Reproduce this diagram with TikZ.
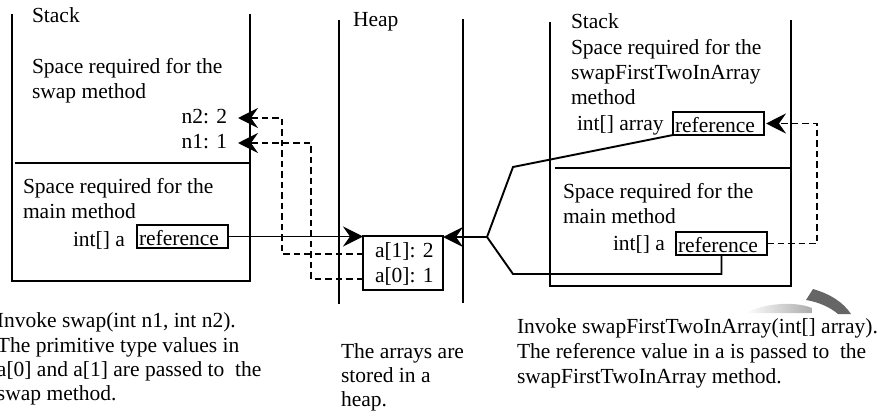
\documentclass[tikz,border=0pt]{standalone}
\usepackage{fontspec}
\setmainfont{Liberation Serif}
\usetikzlibrary{arrows.meta}
\newcommand\dgfont{\fontsize{21.5pt}{24.5pt}\selectfont}
\begin{document}
\begin{tikzpicture}[x=1pt,y=-1pt,
  frame/.style={line width=1.9pt},
  dashline/.style={line width=1.6pt, dash pattern=on 6.5pt off 4pt},
  tip/.style={-{Stealth[length=20pt,width=20pt,inset=7pt]}},
  lbl/.style={inner sep=0pt, outer sep=0pt, anchor=base west, font=\dgfont},
  refbox/.style={draw, line width=1.9pt, inner xsep=2pt, inner ysep=0pt, outer sep=0pt,
    text height=20.5pt, text depth=2.5pt, text width=87pt, align=left, font=\dgfont, anchor=south west}]
\useasboundingbox (0,0) rectangle (882,412);
% ---------- left stack ----------
\draw[frame] (12,14) -- (12,281) -- (250,281) -- (250,14);
\draw[frame] (15,163) -- (250,163);
\node[lbl] (stackL) at (32,22.5) {Stack};
\node[lbl] (swapA) at (32,74) {Space required for the};
\node[lbl] (swapB) at (32,98) {swap method};
\node[lbl,anchor=base east] (n2) at (227,123) {n2: 2};
\node[lbl,anchor=base east] (n1) at (227,148) {n1: 1};
\node[lbl] (mainA) at (23,193) {Space required for the};
\node[lbl] (mainB) at (23,218) {main method};
\node[lbl] (intA) at (73,246) {int[] a};
\node[refbox] (refL) at (137,248) {reference};
\coordinate (t2) at (238,118);
\coordinate (t1) at (238,143);
% ---------- heap ----------
\draw[frame] (339,20) -- (339,304);
\draw[frame] (463,19) -- (463,303);
\node[lbl] (heapT) at (353,27) {Heap};
\node[draw, line width=1.9pt, minimum width=80pt, minimum height=54pt, inner sep=0pt, outer sep=0pt] (arr) at (403,263) {};
\node[lbl] (a1) at (375,257) {a[1]: 2};
\node[lbl] (a0) at (375,282) {a[0]: 1};
% ---------- right stack ----------
\draw[frame] (550,22) -- (550,286) -- (791,286) -- (791,20);
\draw[frame] (555,168) -- (791,168);
\node[lbl] (stackR) at (571,29) {Stack};
\node[lbl] (sfA) at (571,54) {Space required for the};
\node[lbl] (sfB) at (571,79) {swapFirstTwoInArray};
\node[lbl] (sfC) at (571,104) {method};
\node[lbl] (intArr) at (577,130) {int[] array};
\node[refbox] (refU) at (673,135) {reference};
\node[lbl] (mainRA) at (563,198) {Space required for the};
\node[lbl] (mainRB) at (563,223) {main method};
\node[lbl] (intR) at (613,250) {int[] a};
\node[refbox] (refR) at (676,255) {reference};
\coordinate (jn) at (487,237);
% ---------- connectors ----------
\draw[frame,tip] (refL.east) -- (arr.west |- refL.east);
\draw[dashline,tip] (arr.west |- 0,254) -| (282,118) -- (t2);
\draw[dashline,tip] (arr.west |- 0,279) -| (311,143) -- (t1);
\draw[frame,tip] (jn) -- (arr.east |- jn);
\draw[frame] (refU.south west) -- (513,167) -- (jn) -- (513,274) -| (refR.south);
\draw[dashline,tip] (refR.east) -| ([xshift=53pt]refU.east) -- ([xshift=2pt]refU.east);
% ---------- swoosh ----------
\shade[left color=white, right color=gray!65] (745,313) .. controls (765,303) and (795,301) .. (812,308) -- (812,313) -- cycle;
\fill[black!60] (813,289) .. controls (830,294) and (843,302) .. (851,314) -- (838,314) .. controls (830,307) and (818,302) .. (806,300) -- cycle;
% ---------- captions ----------
\node[lbl] (cl1) at (-3,327) {Invoke swap(int n1, int n2).};
\node[lbl] (cl2) at (-3,352) {The primitive type values in};
\node[lbl] (cl3) at (-3,376) {a[0] and a[1] are passed to~ the};
\node[lbl] (cl4) at (-3,400) {swap method.};
\node[lbl] (cm1) at (341,358) {The arrays are};
\node[lbl] (cm2) at (341,382) {stored in a};
\node[lbl] (cm3) at (341,406) {heap.};
\node[lbl] (cr1) at (517,333) {Invoke swapFirstTwoInArray(int[] array).};
\node[lbl] (cr2) at (517,358) {The reference value in a is passed to~ the};
\node[lbl] (cr3) at (517,383) {swapFirstTwoInArray method.};
\end{tikzpicture}
\end{document}
